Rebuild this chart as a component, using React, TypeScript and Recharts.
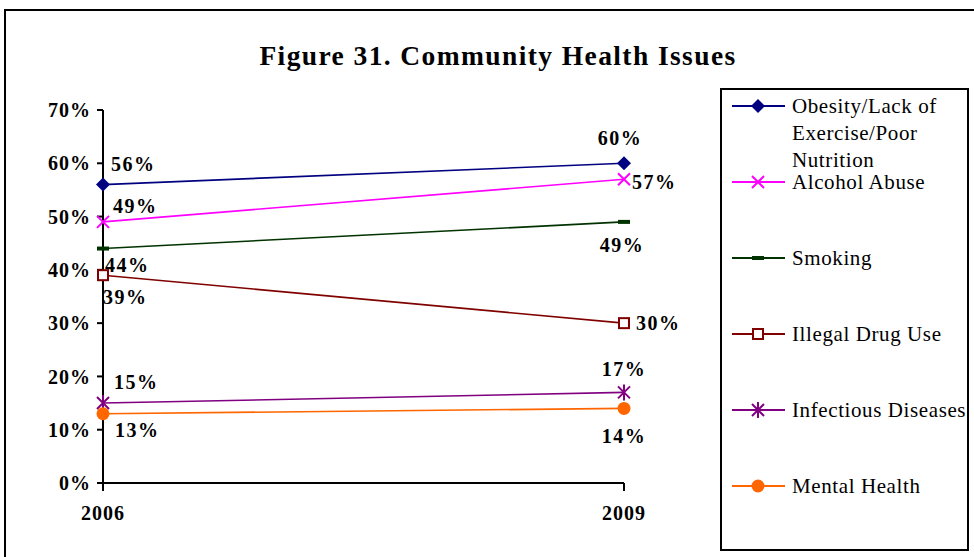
import React from "react";
import { LineChart, Line, XAxis, YAxis, Legend, LabelList } from "recharts";

const years = ["2006", "2009"];
const obesity = [56, 60];
const alcohol = [49, 57];
const smoking = [44, 49];
const drugs = [39, 30];
const infectious = [15, 17];
const mental = [13, 14];
const yTicks = [0, 10, 20, 30, 40, 50, 60, 70];

const data = years.map((year, i) => ({
  year,
  obesity: obesity[i],
  alcohol: alcohol[i],
  smoking: smoking[i],
  drugs: drugs[i],
  infectious: infectious[i],
  mental: mental[i],
}));

const FONT = '"Liberation Serif", "Times New Roman", serif';

type Shape = "diamond" | "x" | "dash" | "square" | "star" | "circle";

function Marker({ shape, color, cx, cy }: { shape: Shape; color: string; cx: number; cy: number }) {
  switch (shape) {
    case "diamond":
      return <path d={`M${cx},${cy - 7} L${cx + 7},${cy} L${cx},${cy + 7} L${cx - 7},${cy} Z`} fill={color} />;
    case "x":
      return (
        <path d={`M${cx - 6},${cy - 6} L${cx + 6},${cy + 6} M${cx - 6},${cy + 6} L${cx + 6},${cy - 6}`} stroke={color} strokeWidth={2} />
      );
    case "dash":
      return <rect x={cx - 6} y={cy - 2} width={12} height={4} fill={color} />;
    case "square":
      return <rect x={cx - 5} y={cy - 5} width={10} height={10} fill="#fff" stroke={color} strokeWidth={2} />;
    case "star":
      return (
        <path
          d={`M${cx - 6},${cy - 6} L${cx + 6},${cy + 6} M${cx - 6},${cy + 6} L${cx + 6},${cy - 6} M${cx},${cy - 8} L${cx},${cy + 8}`}
          stroke={color}
          strokeWidth={2}
        />
      );
    default:
      return <circle cx={cx} cy={cy} r={6.5} fill={color} />;
  }
}

const dotFor = (shape: Shape, color: string) => (p: any) =>
  <Marker key={`${shape}-${p.index}`} shape={shape} color={color} cx={p.cx} cy={p.cy} />;

// label offsets per point: [dx, dy, anchor]
type Off = [number, number, "start" | "middle"];
const labelFor = (offs: Off[]) => (p: any) => {
  const o = offs[p.index] || [0, -15, "middle"];
  return (
    <text
      x={p.x + o[0]}
      y={p.y + o[1]}
      textAnchor={o[2]}
      dominantBaseline="central"
      fontFamily={FONT}
      fontWeight="bold"
      fontSize={20}
      letterSpacing={1.5}
      fill="#000"
    >
      {p.value}%
    </text>
  );
};

const series = [
  { key: "obesity", name: "Obesity/Lack of Exercise/Poor Nutrition", color: "#000080", shape: "diamond" as Shape, offs: [[8, -21, "start"], [-4, -25, "middle"]] as Off[] },
  { key: "alcohol", name: "Alcohol Abuse", color: "#FF00FF", shape: "x" as Shape, offs: [[10, -16, "start"], [8, 3, "start"]] as Off[] },
  { key: "smoking", name: "Smoking", color: "#003300", shape: "dash" as Shape, offs: [[2, 16, "start"], [-2, 23, "middle"]] as Off[] },
  { key: "drugs", name: "Illegal Drug Use", color: "#800000", shape: "square" as Shape, offs: [[0, 22, "start"], [12, 0, "start"]] as Off[] },
  { key: "infectious", name: "Infectious Diseases", color: "#800080", shape: "star" as Shape, offs: [[11, -21, "start"], [0, -23, "middle"]] as Off[] },
  { key: "mental", name: "Mental Health", color: "#FF6600", shape: "circle" as Shape, offs: [[12, 16, "start"], [0, 28, "middle"]] as Off[] },
];

function LegendBox() {
  return (
    <div
      style={{
        width: 249,
        height: 463,
        border: "2px solid #000",
        boxSizing: "border-box",
        background: "#fff",
        fontFamily: FONT,
        fontSize: 21,
        letterSpacing: 0.6,
        color: "#000",
        position: "relative",
      }}
    >
      {series.map((s, i) => (
        <div key={s.key} style={{ position: "absolute", left: 8, top: 2 + i * 76, display: "flex", alignItems: "flex-start" }}>
          <svg width={56} height={28} style={{ flex: "none" }}>
            <line x1={2} y1={14} x2={55} y2={14} stroke={s.color} strokeWidth={2} />
            <Marker shape={s.shape} color={s.color} cx={28} cy={14} />
          </svg>
          <div
            style={{
              marginLeft: 6,
              lineHeight: i === 0 ? "27px" : "28px",
              marginTop: i === 0 ? 1 : 0,
              width: i === 0 ? 175 : 190,
              whiteSpace: i === 0 ? "normal" : "nowrap",
            }}
          >
            {s.name}
          </div>
        </div>
      ))}
    </div>
  );
}

export default function App() {
  return (
    <div style={{ position: "absolute", left: 0, top: 0, width: 974, height: 557, overflow: "hidden", background: "#fff" }}>
      <div style={{ position: "absolute", left: 4, top: 9, width: 1000, height: 600, border: "2px solid #000" }} />
      <div
        style={{
          position: "absolute",
          left: 0,
          top: 40,
          width: 996,
          textAlign: "center",
          fontFamily: FONT,
          fontWeight: "bold",
          fontSize: 27.5,
          letterSpacing: 1.4,
        }}
      >
        Figure 31. Community Health Issues
      </div>
      <LineChart
        width={974}
        height={557}
        data={data}
        margin={{ top: 110, right: 101, bottom: 34, left: 43 }}
        style={{ position: "absolute", left: 0, top: 0 }}
      >
        <XAxis
          dataKey="year"
          padding={{ left: 0, right: 0 }}
          axisLine={{ stroke: "#000", strokeWidth: 2 }}
          tickLine={{ stroke: "#000", strokeWidth: 2 }}
          tickSize={8}
          height={40}
          tick={{ fill: "#000", fontFamily: FONT, fontWeight: "bold", fontSize: 20, letterSpacing: 1 }}
          dy={13}
        />
        <YAxis
          domain={[0, 70]}
          ticks={yTicks}
          width={60}
          tickFormatter={(v) => `${v}%`}
          axisLine={{ stroke: "#000", strokeWidth: 2 }}
          tickLine={{ stroke: "#000", strokeWidth: 2 }}
          tickSize={6}
          tick={{ fill: "#000", fontFamily: FONT, fontWeight: "bold", fontSize: 20, letterSpacing: 1 }}
          dx={-4}
        />
        <Legend
          verticalAlign="top"
          align="right"
          layout="vertical"
          content={() => <LegendBox />}
          wrapperStyle={{ position: "absolute", left: 720, top: 88, width: 249, height: 463 }}
        />
        {series.map((s) => (
          <Line
            key={s.key}
            dataKey={s.key}
            name={s.name}
            stroke={s.color}
            strokeWidth={1.6}
            dot={dotFor(s.shape, s.color)}
            activeDot={false}
            isAnimationActive={false}
          >
            <LabelList dataKey={s.key} content={labelFor(s.offs)} />
          </Line>
        ))}
      </LineChart>
    </div>
  );
}
